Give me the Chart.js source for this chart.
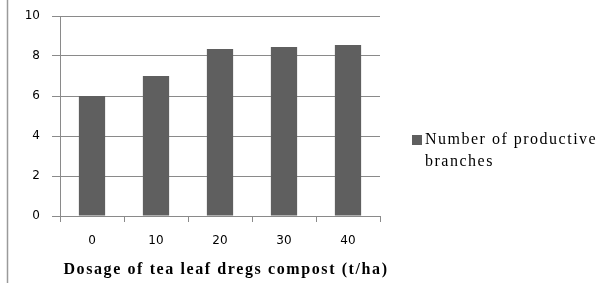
<!DOCTYPE html>
<html>
<head>
<meta charset="utf-8">
<script src="https://cdn.jsdelivr.net/npm/chart.js@4"></script>
<style>
    html, body { margin: 0; padding: 0; background: #fff; }
    #wrap { width: 607px; height: 283px; position: relative; }
</style>
</head>
<body>
<div id="wrap"><canvas id="chart" width="607" height="283"></canvas></div>
<script>
const dosages = ['0', '10', '20', '30', '40'];
const branches = [6.0, 7.0, 8.35, 8.45, 8.55];
const yTicks = [0, 2, 4, 6, 8, 10];
const seriesName = 'Number of productive branches';
const legendLines = ['Number of productive', 'branches'];
const xTitle = 'Dosage of tea leaf dregs compost (t/ha)';

const barColor = '#5f5f5f';
const gridColor = '#8a8a8a';

// legend and axis title drawn by hand: wrapped label + wide letter spacing
const sideLegend = {
    id: 'sideLegend',
    afterDraw(chart) {
        const ctx = chart.ctx;
        const area = chart.chartArea;
        ctx.save();
        // left frame line
        ctx.strokeStyle = '#9a9a9a';
        ctx.lineWidth = 1.5;
        ctx.beginPath();
        ctx.moveTo(7.5, 0);
        ctx.lineTo(7.5, 283);
        ctx.stroke();

        ctx.fillStyle = barColor;
        ctx.fillRect(412, 135, 10, 10);
        ctx.fillStyle = '#000';
        ctx.letterSpacing = '1.5px';
        ctx.font = '16px "Liberation Serif"';
        ctx.textBaseline = 'middle';
        ctx.fillText(legendLines[0], 425, 140);
        ctx.fillText(legendLines[1], 425, 162);

        ctx.font = 'bold 16px "Liberation Serif"';
        ctx.letterSpacing = '1.6px';
        ctx.textAlign = 'center';
        ctx.fillText(xTitle, (area.left + area.right) / 2 + 6, 270);
        ctx.restore();
    }
};

new Chart(document.getElementById('chart'), {
    type: 'bar',
    data: {
        labels: dosages,
        datasets: [{
            label: seriesName,
            data: branches,
            backgroundColor: barColor,
            categoryPercentage: 1,
            barPercentage: 0.41
        }]
    },
    options: {
        responsive: false,
        animation: false,
        layout: {
            padding: { left: 0, right: 227, top: 16, bottom: 0 }
        },
        plugins: {
            legend: { display: false },
            tooltip: { enabled: false }
        },
        scales: {
            x: {
                offset: true,
                grid: {
                    offset: true,
                    drawOnChartArea: false,
                    drawTicks: true,
                    tickLength: 6,
                    color: gridColor
                },
                border: { color: gridColor },
                ticks: {
                    color: '#000',
                    padding: 12,
                    font: { family: 'DejaVu Sans', size: 12 }
                },
                afterFit(scale) { scale.height = 67; }
            },
            y: {
                min: 0,
                max: 10,
                afterBuildTicks(scale) {
                    scale.ticks = yTicks.map(v => ({ value: v }));
                },
                grid: {
                    color: gridColor,
                    tickLength: 8
                },
                border: { color: gridColor },
                ticks: {
                    color: '#000',
                    padding: 12,
                    font: { family: 'DejaVu Sans', size: 12, lineHeight: 1 }
                },
                afterFit(scale) {
                    scale.width = 60;
                    scale.paddingTop = 0;
                }
            }
        }
    },
    plugins: [sideLegend]
});
</script>
</body>
</html>
